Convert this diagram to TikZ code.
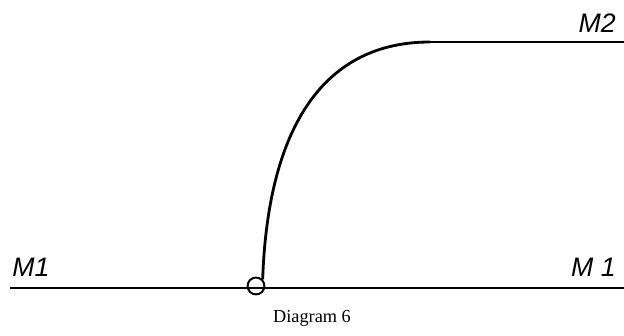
\documentclass[tikz,border=0pt]{standalone}
\usepackage{fontspec}
\newfontfamily\handfont{Liberation Sans}
\newfontfamily\capfont{Liberation Serif}
\usetikzlibrary{arrows.meta}
\tikzset{
  wire/.style={line width=2pt},
  hand/.style={font=\handfont\itshape\fontsize{19}{19}\selectfont,inner sep=0pt}
}
\begin{document}
\begin{tikzpicture}[x=0.025cm,y=0.025cm]
\useasboundingbox(0,0)rectangle(624,335);
\coordinate(leftend)at(10,47);
\coordinate(rightend)at(624,47);
\coordinate(topstart)at(430,293);
\coordinate(topend)at(624,293);
\draw[wire](leftend)--(rightend);
\draw[wire](topstart)--(topend);
\node[circle,draw,line width=1.4pt,minimum size=12pt,inner sep=0pt](pin)at(256,49){};
\draw[wire](pin.north east) .. controls (268,210) and (325,293) .. (topstart);
\node[hand,anchor=south west](lefttag)at(12,58){M1};
\node[hand,anchor=south east](righttag)at(616,58){M 1};
\node[hand,anchor=south east](toptag)at(616,302){M2};
\node[font=\capfont\fontsize{13}{13}\selectfont](caption)at(312,17){Diagram 6};
\end{tikzpicture}
\end{document}
